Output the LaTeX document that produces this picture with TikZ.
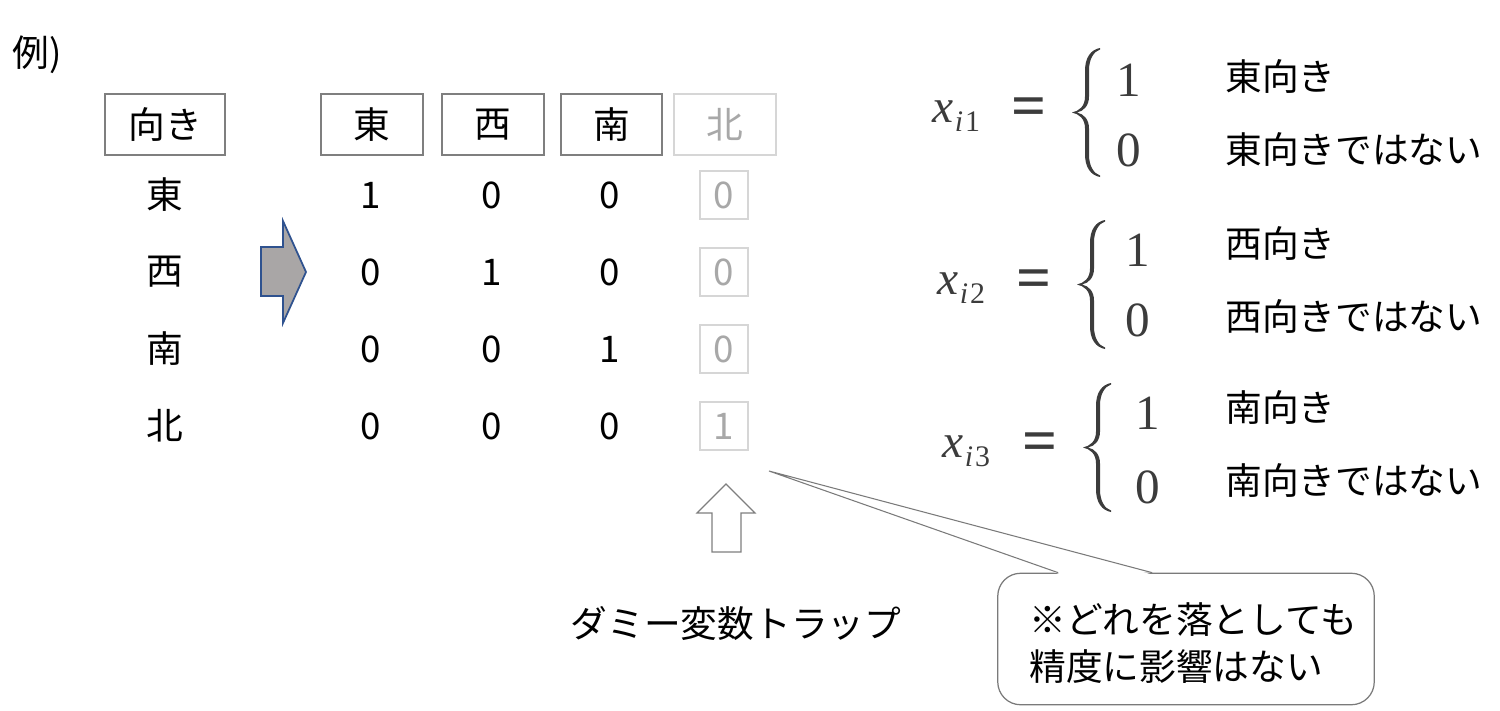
\documentclass[tikz,border=0pt]{standalone}
\usepackage{fontspec}
\setmainfont{Noto Sans CJK JP}
\newfontfamily\tms{Liberation Serif}
\usetikzlibrary{calc}
\newdimen\px \px=0.5669pt
\definecolor{hdrgray}{HTML}{7F7F7F}
\definecolor{lightborder}{HTML}{D6D6D6}
\definecolor{lighttext}{HTML}{A8A8A8}
\definecolor{arrowfill}{HTML}{A9A6A6}
\definecolor{arrowblue}{HTML}{2F528F}
\definecolor{mathgray}{HTML}{3C3C3C}
\definecolor{calloutgray}{HTML}{7A7A7A}
\newcommand\xsub[1]{\itshape x\kern1.5\px\raisebox{-10\px}{\fontsize{17}{17}\selectfont i\kern2\px\upshape #1}}
\begin{document}
\begin{tikzpicture}[x=0.02cm,y=-0.02cm,
  jp/.style={font=\fontsize{20.9}{26}\selectfont, inner sep=0pt, text=black},
  hdr/.style={jp, draw=hdrgray, line width=1.1pt, minimum width=102\px, minimum height=61\px},
  hdrlight/.style={hdr, draw=lightborder, text=lighttext},
  val/.style={jp},
  valbox/.style={jp, draw=lightborder, line width=1.1pt, text=lighttext, minimum width=49\px, minimum height=48\px},
  mth/.style={font=\fontsize{28}{30}\selectfont\tms, inner sep=0pt, text=mathgray},
  xsubst/.style={font=\fontsize{27}{30}\selectfont\tms, inner sep=0pt, text=mathgray, anchor=base west},
  eqsign/.style={font=\fontsize{35}{36}\selectfont\tms\bfseries, inner sep=0pt, text=mathgray},
  callout/.style={jp, draw=calloutgray, line width=0.7pt, fill=white, rounded corners=13pt,
    minimum width=378\px, minimum height=132\px},
  pics/curly/.style={code={
    \fill[mathgray] (28,-64.5) .. controls (19,-63) and (13,-55) .. (13,-42) -- (13,-16)
      .. controls (13,-6) and (7,-1.5) .. (0,0) .. controls (7,1.5) and (13,6) .. (13,16)
      -- (13,42) .. controls (13,55) and (19,63) .. (28,64.5) -- (28,63)
      .. controls (22,61) and (17,54) .. (17,42) -- (17,16)
      .. controls (17,7) and (12,1.5) .. (5,0) .. controls (12,-1.5) and (17,-7) .. (17,-16)
      -- (17,-42) .. controls (17,-54) and (22,-61) .. (28,-63) -- cycle;
  }},
]
\useasboundingbox (0,0) rectangle (1500,710);

% title
\node[jp, anchor=west] (rei) at (12,55) {例)};

% header row
\node[hdr, minimum width=120\px] (hmuki) at (165,124.5) {向き};
\node[hdr] (hE) at (372,124.5) {東};
\node[hdr] (hW) at (493,124.5) {西};
\node[hdr] (hS) at (611.5,124.5) {南};
\node[hdrlight] (hN) at (725,124.5) {北};

% left labels
\node[jp] (lE) at (165,195) {東};
\node[jp] (lW) at (165,272) {西};
\node[jp] (lS) at (165,349) {南};
\node[jp] (lN) at (165,426) {北};

% values
\node[val] (v11) at (371,195) {1};
\node[val] (v12) at (492,195) {0};
\node[val] (v13) at (610,195) {0};
\node[valbox] (v14) at (724,195) {0};
\node[val] (v21) at (371,272) {0};
\node[val] (v22) at (492,272) {1};
\node[val] (v23) at (610,272) {0};
\node[valbox] (v24) at (724,272) {0};
\node[val] (v31) at (371,349) {0};
\node[val] (v32) at (492,349) {0};
\node[val] (v33) at (610,349) {1};
\node[valbox] (v34) at (724,349) {0};
\node[val] (v41) at (371,426) {0};
\node[val] (v42) at (492,426) {0};
\node[val] (v43) at (610,426) {0};
\node[valbox] (v44) at (724,426) {1};

% block arrow (right)
\draw[fill=arrowfill, draw=arrowblue, line width=1pt, line join=miter]
  (261,247) -- (283,247) -- (283,221) -- (306,272) -- (283,323) -- (283,296) -- (261,296) -- cycle;

% block arrow (up)
\draw[fill=white, draw=hdrgray, line width=0.7pt, line join=miter]
  (712,552) -- (712,513) -- (697,513) -- (726,484) -- (755,513) -- (741,513) -- (741,552) -- cycle;

\node[jp] (trap) at (736,623) {ダミー変数トラップ};

% callout
\node[callout] (cb) at (1186,639) {};
\node[jp, anchor=west, align=left, font=\fontsize{20.9}{26.6}\selectfont] (cbt) at (1029,643)
  {※どれを落としても\\精度に影響はない};
\coordinate (tip) at (769,471);
\coordinate (cb1) at ($(cb.north west)+(61,0)$);
\coordinate (cb2) at ($(cb.north west)+(155,0)$);
\fill[white] ($(cb1)+(1.5,1.5)$) -- (tip) -- ($(cb2)+(-1.5,1.5)$) -- cycle;
\draw[calloutgray, line width=0.6pt, line join=miter] (cb1) -- (tip) -- (cb2);

% equations
% eq1
\node[xsubst] (x1) at (932,122) {\xsub{1}};
\node[eqsign] (q1) at (1029,112.5) {=};
\pic at (1072,112.5) {curly};
\node[mth] (o1) at (1129,80) {1};
\node[mth] (z1) at (1129,150) {0};
\node[jp, anchor=west] (t1a) at (1225,77) {東向き};
\node[jp, anchor=west] (t1b) at (1225,150) {東向きではない};
% eq2
\node[xsubst] (x2) at (937,294) {\xsub{2}};
\node[eqsign] (q2) at (1034,284.5) {=};
\pic at (1077,284.5) {curly};
\node[mth] (o2) at (1138,250) {1};
\node[mth] (z2) at (1138,320) {0};
\node[jp, anchor=west] (t2a) at (1225,244) {西向き};
\node[jp, anchor=west] (t2b) at (1225,317) {西向きではない};
% eq3
\node[xsubst] (x3) at (942,457) {\xsub{3}};
\node[eqsign] (q3) at (1040,447) {=};
\pic at (1083,447.5) {curly};
\node[mth] (o3) at (1148,413) {1};
\node[mth] (z3) at (1148,487) {0};
\node[jp, anchor=west] (t3a) at (1225,408) {南向き};
\node[jp, anchor=west] (t3b) at (1225,481) {南向きではない};
\end{tikzpicture}
\end{document}
